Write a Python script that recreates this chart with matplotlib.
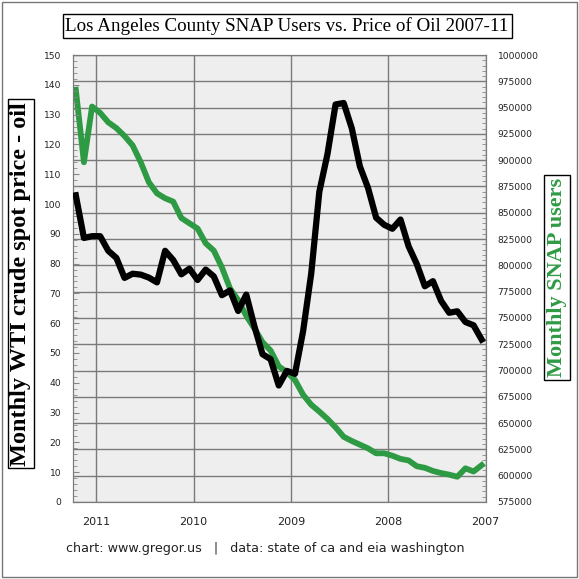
import numpy as np
import matplotlib
matplotlib.use("Agg")
import matplotlib.pyplot as plt
from matplotlib.ticker import MultipleLocator, FuncFormatter

# monthly values, Jan 2007 .. Mar 2011
oil_price = [54.5, 59.3, 60.4, 64.0, 63.5, 67.5, 74.1, 72.4, 79.9, 85.8, 94.8, 91.7,
             93.0, 95.4, 105.4, 112.6, 125.4, 133.9, 133.4, 116.7, 104.1, 76.6, 57.3, 43.0,
             44.0, 39.1, 47.9, 49.6, 59.0, 69.6, 64.1, 71.0, 69.4, 75.7, 78.0, 74.5,
             78.3, 76.4, 81.2, 84.3, 73.7, 75.3, 76.3, 76.6, 75.2, 81.9, 84.3, 89.2,
             89.2, 88.6, 102.9]
snap_users = [610000, 604000, 607000, 599000, 601000, 602500, 604500, 607500, 609000, 614500, 616000, 619000,
              621300, 621300, 626000, 629500, 633000, 637000, 646000, 654000, 661000, 667500, 677000, 691000,
              698500, 704000, 719000, 727000, 740000, 752000, 767000, 778000, 798000, 814000, 821000, 835000,
              840000, 845000, 860600, 863800, 868500, 879000, 898000, 914000, 923000, 930500, 936000, 945000,
              951000, 898000, 967000]
months = 2007 + (np.arange(len(oil_price)) + 0.5) / 12.0
years = [2007, 2008, 2009, 2010, 2011]

fig = plt.figure(figsize=(5.79, 5.79), dpi=100)
fig.patch.set_facecolor("white")

ax = fig.add_axes([0.1256, 0.133, 0.7133, 0.772])
ax.set_facecolor("#eeeeee")
ax.plot(months, snap_users, color="#2f9a44", lw=4.2, solid_joinstyle="round", zorder=3)
ax.set_ylim(575000, 1000000)
ax.set_xlim(2011.24, 2007.0)
ax.set_xticks(years)
ax.set_xticklabels([str(y) for y in years])
ax.grid(True, which="major", color="#7a7a7a", lw=1)
ax.set_axisbelow(True)

ax2 = ax.twinx()
ax2.plot(months, oil_price, color="black", lw=4.5, solid_joinstyle="round", zorder=4)
ax2.set_ylim(0, 150)

# snap axis on the right, oil axis on the left
ax.yaxis.tick_right()
ax.yaxis.set_major_locator(MultipleLocator(25000))
ax.yaxis.set_minor_locator(MultipleLocator(5000))
ax.yaxis.set_major_formatter(FuncFormatter(lambda v, p: "%d" % v))
ax.tick_params(axis="x", length=0, pad=11, labelsize=8, colors="#222222")
ax.tick_params(axis="y", which="both", direction="in", right=True, left=False,
               labelright=True, labelleft=False, labelsize=6.6, pad=8.5, colors="#222222")
ax.tick_params(axis="y", which="major", length=0)
ax.tick_params(axis="y", which="minor", length=3, color="#888888")

ax2.yaxis.tick_left()
ax2.yaxis.set_major_locator(MultipleLocator(10))
ax2.yaxis.set_minor_locator(MultipleLocator(2))
ax2.tick_params(axis="y", which="both", direction="in", left=True, right=False,
                labelleft=True, labelright=False, labelsize=6.6, pad=8.3, colors="#222222")
ax2.tick_params(axis="y", which="major", length=4, color="#888888")
ax2.tick_params(axis="y", which="minor", length=3, color="#888888")

for a in (ax, ax2):
    for s in a.spines.values():
        s.set_color("#7a7a7a")

fig.text(0.496, 0.955, "Los Angeles County SNAP Users vs. Price of Oil 2007-11",
         ha="center", va="center", family="Liberation Serif", fontsize=13.7,
         bbox=dict(boxstyle="square,pad=0.15", fc="white", ec="black", lw=1))
fig.text(0.036, 0.51, "Monthly WTI crude spot price - oil", rotation=90,
         ha="center", va="center", family="Liberation Serif", fontweight="bold", fontsize=17.5,
         bbox=dict(boxstyle="square,pad=0.1", fc="white", ec="black", lw=1))
fig.text(0.962, 0.521, "Monthly SNAP users", rotation=90, color="#2f9a44",
         ha="center", va="center", family="Liberation Serif", fontweight="bold", fontsize=16,
         bbox=dict(boxstyle="square,pad=0.12", fc="white", ec="black", lw=1))
fig.text(0.458, 0.052, "chart: www.gregor.us   |   data: state of ca and eia washington",
         ha="center", va="center", fontsize=9.2, color="#222222")

fig.add_artist(plt.Rectangle((0.004, 0.004), 0.992, 0.992, transform=fig.transFigure,
                             fill=False, ec="#777777", lw=1))

fig.savefig("out.png", dpi=100)
